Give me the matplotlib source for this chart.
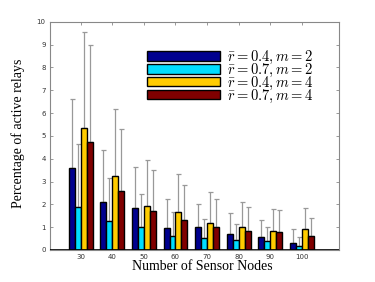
import numpy as np
import matplotlib
matplotlib.use("Agg")
import matplotlib.pyplot as plt

plt.rcParams['mathtext.fontset'] = 'cm'

# data
nodes = [30, 40, 50, 60, 70, 80, 90, 100]
labels = [r"$\bar{r} = 0.4, m = 2$", r"$\bar{r} = 0.7, m = 2$",
          r"$\bar{r} = 0.4, m = 4$", r"$\bar{r} = 0.7, m = 4$"]
colors = ["#00008F", "#00DDFF", "#FFCC00", "#800000"]

r04_m2 = [3.59, 2.12, 1.85, 0.98, 0.99, 0.72, 0.58, 0.31]
r07_m2 = [1.87, 1.27, 1.01, 0.60, 0.53, 0.44, 0.39, 0.18]
r04_m4 = [5.33, 3.26, 1.93, 1.65, 1.17, 0.99, 0.83, 0.92]
r07_m4 = [4.74, 2.60, 1.71, 1.33, 0.99, 0.83, 0.77, 0.63]

# top of the error bars
r04_m2_top = [6.60, 4.38, 3.65, 2.22, 2.01, 1.61, 1.31, 0.91]
r07_m2_top = [4.64, 3.17, 2.44, 1.65, 1.34, 1.15, 0.99, 0.58]
r04_m4_top = [9.56, 6.16, 3.94, 3.33, 2.53, 2.12, 1.81, 1.85]
r07_m4_top = [8.96, 5.31, 3.50, 2.83, 2.23, 1.90, 1.75, 1.39]

means = [r04_m2, r07_m2, r04_m4, r07_m4]
tops = [r04_m2_top, r07_m2_top, r04_m4_top, r07_m4_top]

fig = plt.figure(figsize=(3.75, 2.82), dpi=100)
ax = fig.add_axes([0.133, 0.1135, 0.771, 0.8095])

x = np.arange(1, len(nodes) + 1)
width = 0.19
for i, (m, t) in enumerate(zip(means, tops)):
    pos = x + (i - 1.5) * width
    m = np.array(m)
    upper = np.array(t) - m
    ax.bar(pos, m, width, color=colors[i], edgecolor="black",
           linewidth=1.0, label=labels[i], zorder=2)
    ax.errorbar(pos, m, yerr=[np.zeros_like(m), upper], fmt="none",
                ecolor="#999999", elinewidth=0.9, capsize=1.8,
                capthick=0.9, zorder=1)

ax.axhline(0, color="black", linewidth=1.2, zorder=3)

ax.set_xlim(0.02, 9.18)
ax.set_ylim(0, 10)
ax.set_xticks(x)
ax.set_xticklabels([str(n) for n in nodes])
ax.set_yticks(range(0, 11))
ax.tick_params(direction="in", length=2.5, width=0.6, labelsize=5,
               colors="#888888", labelcolor="#333333", top=True, right=True,
               pad=3)
for s in ax.spines.values():
    s.set_color("#888888")
    s.set_linewidth(0.8)

ax.set_xlabel("Number of Sensor Nodes", family="Liberation Serif",
              fontsize=10)
ax.xaxis.set_label_coords(0.526, -0.042)
ax.set_ylabel("Percentage of active relays", family="Liberation Serif",
              fontsize=10)
ax.yaxis.set_label_coords(-0.085, 0.51)

ax.legend(loc="upper left", bbox_to_anchor=(0.336, 0.88), frameon=False,
          fontsize=10.5, handlelength=5.0, handleheight=0.65,
          handletextpad=0.5, labelspacing=-0.3, borderpad=0,
          borderaxespad=0)

fig.savefig("out.png", dpi=100)
